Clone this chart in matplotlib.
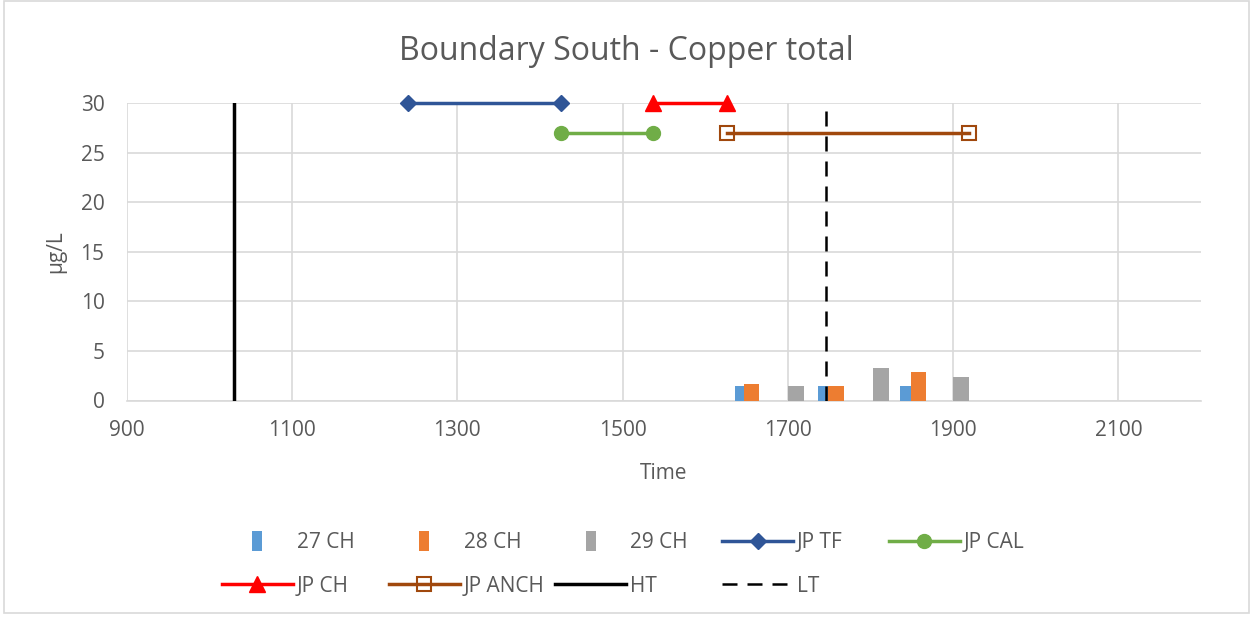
import matplotlib
matplotlib.use("Agg")
import matplotlib.pyplot as plt
from matplotlib.lines import Line2D
from matplotlib.patches import Rectangle

plt.rcParams['font.family'] = ['Open Sans', 'DejaVu Sans']

# sample results (time, ug/L) for each site
t_27 = [1646, 1746, 1845]
cu_27 = [1.5, 1.5, 1.5]
t_28 = [1656, 1758, 1858]
cu_28 = [1.7, 1.5, 2.9]
t_29 = [1710, 1813, 1910]
cu_29 = [1.5, 3.3, 2.4]

# job period windows
jp_tf_t = [1240, 1426]
jp_tf_y = [30, 30]
jp_cal_t = [1426, 1537]
jp_cal_y = [27, 27]
jp_ch_t = [1537, 1626]
jp_ch_y = [30, 30]
jp_anch_t = [1626, 1919]
jp_anch_y = [27, 27]

# tide times
ht_t = 1030
lt_t = 1746

grey_txt = '#595959'
grid_c = '#d9d9d9'

fig = plt.figure(figsize=(12.53, 6.18), dpi=100)
ax = fig.add_axes([126.7/1253, 1-400.5/618, (1201-126.7)/1253, (400.5-103)/618])

bw = 19
ax.bar(t_27, cu_27, width=bw, color='#5b9bd5', zorder=3)
ax.bar(t_28, cu_28, width=bw, color='#ed7d31', zorder=3)
ax.bar(t_29, cu_29, width=bw, color='#a5a5a5', zorder=3)

# line styles shared by the plot and the legend
st_tf = dict(color='#2f5597', lw=2.5, marker='D', ms=8)
st_cal = dict(color='#70ad47', lw=2.5, marker='o', ms=10)
st_ch = dict(color='#ff0000', lw=2.5, marker='^', ms=11)
st_anch = dict(color='#a0480d', lw=2.5, marker='s', ms=10, mfc='none', mew=1.5)
st_ht = dict(color='black', lw=2.5)
st_lt = dict(color='black', lw=1.8, ls=(0, (6, 4)))

ax.plot(jp_tf_t, jp_tf_y, zorder=4, clip_on=False, **st_tf)
ax.plot(jp_cal_t, jp_cal_y, zorder=4, clip_on=False, **st_cal)
ax.plot(jp_ch_t, jp_ch_y, zorder=4, clip_on=False, **st_ch)
ax.plot(jp_anch_t, jp_anch_y, zorder=4, clip_on=False, **st_anch)
ax.axvline(ht_t, zorder=4, **st_ht)
ax.axvline(lt_t, zorder=4, **st_lt)

ax.set_xlim(900, 2200)
ax.set_ylim(0, 30)
ax.set_xticks(range(900, 2200, 200))
ax.set_yticks(range(0, 31, 5))
ax.grid(True, color=grid_c, lw=1.2, zorder=0)
for s in ['top', 'right', 'left']:
    ax.spines[s].set_visible(False)
ax.spines['bottom'].set_color(grid_c)
ax.spines['bottom'].set_linewidth(1.2)
ax.tick_params(length=0, labelsize=15, colors=grey_txt)
ax.tick_params(axis='x', pad=14)
ax.tick_params(axis='y', pad=16)
ax.set_xlabel('Time', fontsize=15, color=grey_txt, labelpad=16)
ax.set_ylabel('µg/L', fontsize=15, color=grey_txt, labelpad=10)
fig.text(0.5, 1-51/618, 'Boundary South - Copper total', ha='center', va='center',
         fontsize=23, color=grey_txt)

# legend laid out on a fixed grid, two rows
bar_mk = [(-0.5, -1), (0.5, -1), (0.5, 1), (-0.5, 1), (-0.5, -1)]
sq = dict(marker=bar_mk, ls='none', ms=15, mew=0)
entries = [
    (Line2D([], [], color='#5b9bd5', **sq), '27 CH'),
    (Line2D([], [], color='#ed7d31', **sq), '28 CH'),
    (Line2D([], [], color='#a5a5a5', **sq), '29 CH'),
    (Line2D([], [], **st_tf), 'JP TF'),
    (Line2D([], [], **st_cal), 'JP CAL'),
    (Line2D([], [], **st_ch), 'JP CH'),
    (Line2D([], [], **st_anch), 'JP ANCH'),
    (Line2D([], [], **st_ht), 'HT'),
    (Line2D([], [], **st_lt), 'LT'),
]
col_w = 166.7
for i, (h, lab) in enumerate(entries):
    row, col = divmod(i, 5)
    x0 = 222 + col * col_w
    y0 = 543 + row * 43
    leg = fig.legend([h], [lab], loc='center left', frameon=False, fontsize=15,
                     labelcolor=grey_txt, handlelength=3.4, handletextpad=0.2,
                     borderpad=0, borderaxespad=0,
                     bbox_to_anchor=(x0/1253, 1-y0/618))

# chart border
fig.patches.append(Rectangle((0.003, 0.008), 0.994, 0.99, transform=fig.transFigure,
                             fill=False, ec=grid_c, lw=1.2))

fig.savefig('out.png', dpi=100)
